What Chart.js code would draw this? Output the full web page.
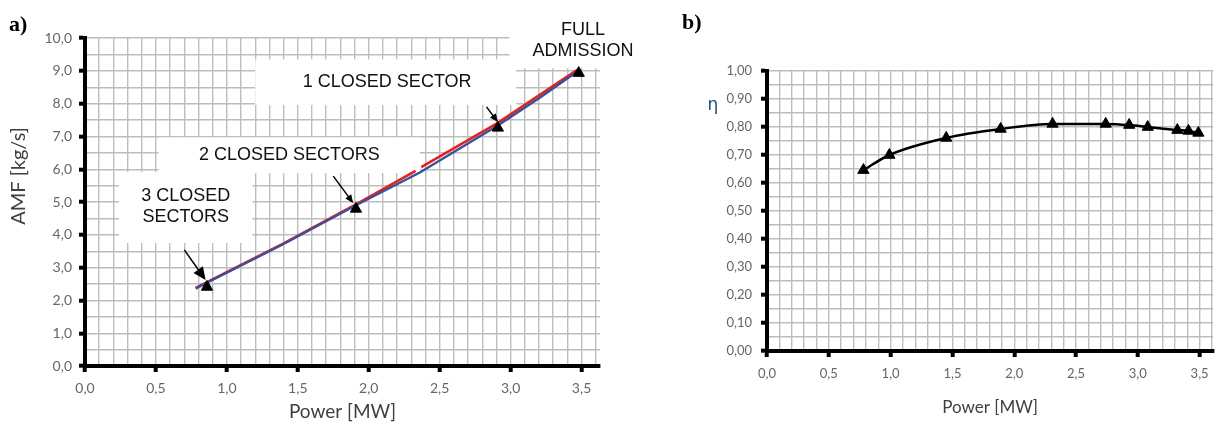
<!DOCTYPE html>
<html>
<head>
<meta charset="utf-8">
<script src="https://cdn.jsdelivr.net/npm/chart.js@4.4.1/dist/chart.umd.min.js"></script>
<style>
  body { margin: 0; background: #fff; }
  #izq { position: absolute; left: 0; top: 0; width: 640px; height: 427px; }
  #der { position: absolute; left: 650px; top: 0; width: 571px; height: 427px; }
</style>
</head>
<body>
<div id="izq"><canvas id="amf"></canvas></div>
<div id="der"><canvas id="eta"></canvas></div>
<script>
// a) AMF vs potencia
const rojoX = [0.78, 0.86, 1.40, 1.91, 2.33, 2.345, 2.37, 2.91, 3.20, 3.47];
const rojoY = [2.38, 2.56, 3.74, 4.93, 5.95, null, 6.06, 7.41, 8.25, 9.03];
const azulX = [0.78, 0.86, 1.40, 1.91, 2.36, 2.91, 3.20, 3.47];
const azulY = [2.36, 2.54, 3.72, 4.90, 5.90, 7.33, 8.16, 8.98];
const puntosX = [0.86, 1.91, 2.91, 3.48];
const puntosY = [2.41, 4.79, 7.26, 8.93];

// b) rendimiento
const etaX = [0.78, 0.99, 1.45, 1.89, 2.31, 2.74, 2.93, 3.08, 3.32, 3.41, 3.49];
const etaY = [0.646, 0.70, 0.761, 0.793, 0.811, 0.811, 0.807, 0.80, 0.789, 0.786, 0.779];

// textos del grafico a), en unidades de los ejes
const textos = [
  { t: "1 CLOSED SECTOR", x: 2.13, y: 8.66 },
  { t: "2 CLOSED SECTORS", x: 1.44, y: 6.43 },
  { t: "3 CLOSED", x: 0.71, y: 5.18 },
  { t: "SECTORS", x: 0.71, y: 4.54 },
  { t: "FULL", x: 3.51, y: 10.24 },
  { t: "ADMISSION", x: 3.51, y: 9.60 },
];
// cajas blancas [x1, x2, y1, y2]
const cajas = [
  [2.99, 3.9, 9.08, 11.5],
  [1.20, 3.04, 7.96, 9.35],
  [0.52, 2.36, 5.88, 6.97],
  [0.24, 1.18, 3.75, 5.91],
];
// flechas [x1, y1, x2, y2, cabeza]
const flechas = [
  [0.70, 3.54, 0.85, 2.62, 14],
  [1.75, 5.79, 1.89, 4.97, 9],
  [2.83, 7.90, 2.91, 7.44, 9],
];

const xy = (xs, ys) => xs.map((v, i) => ({ x: v, y: ys[i] }));
const coma = (v, d) => v.toFixed(d).replace(".", ",");

function flecha(ctx, x1, y1, x2, y2, cabeza) {
  const ang = Math.atan2(y2 - y1, x2 - x1);
  ctx.beginPath();
  ctx.moveTo(x1, y1);
  ctx.lineTo(x2 - cabeza * 0.7 * Math.cos(ang), y2 - cabeza * 0.7 * Math.sin(ang));
  ctx.stroke();
  ctx.beginPath();
  ctx.moveTo(x2, y2);
  ctx.lineTo(x2 - cabeza * Math.cos(ang - 0.42), y2 - cabeza * Math.sin(ang - 0.42));
  ctx.lineTo(x2 - cabeza * Math.cos(ang + 0.42), y2 - cabeza * Math.sin(ang + 0.42));
  ctx.closePath();
  ctx.fill();
}

const anotaciones = {
  id: "anotaciones",
  beforeDatasetsDraw(chart) {
    const { ctx, scales: { x, y } } = chart;
    ctx.save();
    ctx.fillStyle = "#fff";
    cajas.forEach((c) => {
      const x1 = x.getPixelForValue(c[0]);
      const x2 = x.getPixelForValue(c[1]);
      const y1 = y.getPixelForValue(c[3]);
      const y2 = y.getPixelForValue(c[2]);
      ctx.fillRect(x1, y1, x2 - x1, y2 - y1);
    });
    ctx.fillStyle = "#111";
    ctx.font = "18px 'Liberation Sans'";
    ctx.textAlign = "center";
    ctx.textBaseline = "middle";
    textos.forEach((t) => {
      ctx.fillText(t.t, x.getPixelForValue(t.x), y.getPixelForValue(t.y));
    });
    ctx.restore();
  },
  afterDatasetsDraw(chart) {
    const { ctx, scales: { x, y } } = chart;
    ctx.save();
    ctx.strokeStyle = "#000";
    ctx.fillStyle = "#000";
    ctx.lineWidth = 1.5;
    flechas.forEach((f) => {
      flecha(ctx, x.getPixelForValue(f[0]), y.getPixelForValue(f[1]),
        x.getPixelForValue(f[2]), y.getPixelForValue(f[3]), f[4]);
    });
    // titulo eje y y letra del panel
    ctx.fillStyle = "#404040";
    ctx.font = "20px Lato";
    ctx.textAlign = "center";
    ctx.textBaseline = "middle";
    ctx.translate(19, 176);
    ctx.rotate(-Math.PI / 2);
    ctx.fillText("AMF [kg/s]", 0, 0);
    ctx.restore();
    ctx.save();
    ctx.fillStyle = "#000";
    ctx.font = "bold 22px 'Liberation Serif'";
    ctx.fillText("a)", 9, 31);
    ctx.restore();
  },
};

const extrasEta = {
  id: "extrasEta",
  afterDraw(chart) {
    const { ctx } = chart;
    ctx.save();
    ctx.fillStyle = "#000";
    ctx.font = "bold 22px 'Liberation Serif'";
    ctx.fillText("b)", 32, 29);
    ctx.fillStyle = "#1f4e79";
    ctx.font = "17px 'DejaVu Sans'";
    ctx.textAlign = "center";
    ctx.textBaseline = "middle";
    ctx.fillText("η", 63, 106);
    ctx.restore();
  },
};

function rejilla(esMayor) {
  return {
    color: "#bdbdbd",
    lineWidth: 1.4,
    tickLength: 6,
    tickWidth: 4,
    tickColor: (c) => (c.tick && esMayor(c.tick.value) ? "#000" : "rgba(0,0,0,0)"),
  };
}

const mayorX = (v) => Math.round(v * 10) % 5 === 0;

new Chart(document.getElementById("amf"), {
  type: "scatter",
  data: {
    datasets: [
      {
        data: xy(puntosX, puntosY),
        order: 0,
        pointStyle: "triangle",
        pointRadius: 6.5,
        backgroundColor: "#000",
        borderColor: "#000",
        borderWidth: 1,
      },
      {
        data: xy(azulX, azulY),
        order: 1,
        showLine: true,
        borderColor: "#3b4f9a",
        borderWidth: 2.4,
        pointRadius: 0,
      },
      {
        data: xy(rojoX, rojoY),
        order: 2,
        showLine: true,
        borderColor: "#e3211d",
        borderWidth: 2.6,
        pointRadius: 0,
        spanGaps: false,
      },
    ],
  },
  options: {
    responsive: true,
    maintainAspectRatio: false,
    animation: false,
    layout: { padding: { top: 38, right: 40, left: 0, bottom: 0 } },
    plugins: { legend: { display: false }, tooltip: { enabled: false } },
    scales: {
      x: {
        min: 0,
        max: 3.63,
        afterFit: (s) => { s.height = 61; },
        ticks: {
          stepSize: 0.1,
          includeBounds: false,
          autoSkip: false,
          maxRotation: 0,
          padding: 8,
          color: "#666",
          font: { family: "Lato", size: 14 },
          callback: (v) => (mayorX(v) ? coma(v, 1) : ""),
        },
        grid: rejilla(mayorX),
        border: { color: "#000", width: 4 },
        title: {
          display: true,
          text: "Power [MW]",
          color: "#404040",
          font: { family: "Lato", size: 19 },
          padding: { top: 0, bottom: 4 },
        },
      },
      y: {
        min: 0,
        max: 10,
        afterFit: (s) => { s.width = 85; },
        ticks: {
          stepSize: 0.5,
          autoSkip: false,
          padding: 7,
          color: "#666",
          font: { family: "Lato", size: 14 },
          callback: (v) => (Math.round(v * 10) % 10 === 0 ? coma(v, 1) : ""),
        },
        grid: rejilla((v) => Math.round(v * 10) % 10 === 0),
        border: { color: "#000", width: 4 },
      },
    },
  },
  plugins: [anotaciones],
});

new Chart(document.getElementById("eta"), {
  type: "scatter",
  data: {
    datasets: [
      {
        data: xy(etaX, etaY),
        showLine: true,
        cubicInterpolationMode: "monotone",
        borderColor: "#000",
        borderWidth: 2.5,
        pointStyle: "triangle",
        pointRadius: 6.5,
        backgroundColor: "#000",
        pointBorderColor: "#000",
        pointBorderWidth: 1,
      },
    ],
  },
  options: {
    responsive: true,
    maintainAspectRatio: false,
    animation: false,
    layout: { padding: { top: 71, right: 4, left: 0, bottom: 0 } },
    plugins: { legend: { display: false }, tooltip: { enabled: false } },
    scales: {
      x: {
        min: 0,
        max: 3.61,
        afterFit: (s) => { s.height = 76; },
        ticks: {
          stepSize: 0.1,
          includeBounds: false,
          autoSkip: false,
          maxRotation: 0,
          padding: 9,
          color: "#666",
          font: { family: "Lato", size: 13 },
          callback: (v) => (mayorX(v) ? coma(v, 1) : ""),
        },
        grid: rejilla(mayorX),
        border: { color: "#000", width: 4 },
        title: {
          display: true,
          text: "Power [MW]",
          color: "#404040",
          font: { family: "Lato", size: 17 },
          padding: { top: 0, bottom: 9 },
        },
      },
      y: {
        min: 0,
        max: 1,
        afterFit: (s) => { s.width = 117; },
        ticks: {
          stepSize: 0.05,
          autoSkip: false,
          padding: 9,
          color: "#666",
          font: { family: "Lato", size: 13 },
          callback: (v) => (Math.round(v * 100) % 10 === 0 ? coma(v, 2) : ""),
        },
        grid: rejilla((v) => Math.round(v * 100) % 10 === 0),
        border: { color: "#000", width: 4 },
      },
    },
  },
  plugins: [extrasEta],
});
</script>
</body>
</html>
